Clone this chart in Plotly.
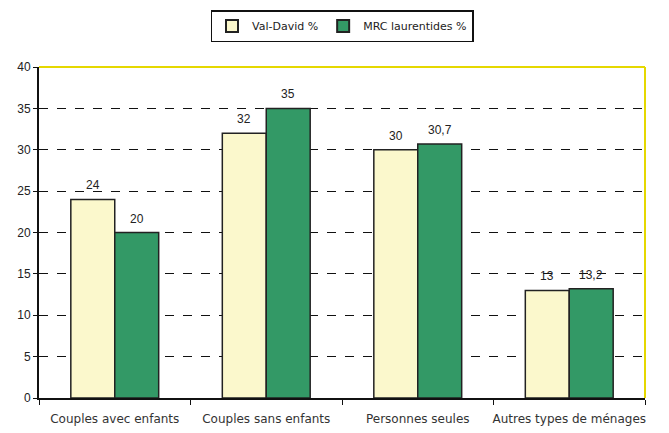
import plotly.graph_objects as go

categories = ["Couples avec enfants", "Couples sans enfants", "Personnes seules", "Autres types de ménages"]
val_david = [24, 32, 30, 13]
mrc = [20, 35, 30.7, 13.2]
val_david_labels = ["24", "32", "30", "13"]
mrc_labels = ["20", "35", "30,7", "13,2"]
y_ticks = [0, 5, 10, 15, 20, 25, 30, 35, 40]

LABEL_FONT = "DejaVu Sans, Verdana, sans-serif"
NUM_FONT = "Liberation Sans, Arial, sans-serif"

fig = go.Figure()
fig.add_trace(go.Bar(name="Val-David %", x=categories, y=val_david,
                     marker=dict(color="#FBF8CC", line=dict(color="#222222", width=1.5))))
fig.add_trace(go.Bar(name="MRC laurentides %", x=categories, y=mrc,
                     marker=dict(color="#339966", line=dict(color="#222222", width=1.5))))

for cat, v, lab in zip(categories, val_david, val_david_labels):
    fig.add_annotation(x=cat, y=v, text=lab, showarrow=False, xshift=-22, yshift=14,
                       font=dict(size=12, color="#222222", family=NUM_FONT))
for cat, v, lab in zip(categories, mrc, mrc_labels):
    fig.add_annotation(x=cat, y=v, text=lab, showarrow=False, xshift=22, yshift=14,
                       font=dict(size=12, color="#222222", family=NUM_FONT))

fig.update_layout(
    width=669, height=433,
    margin=dict(l=31, r=32, t=59, b=43, autoexpand=False),
    paper_bgcolor="white", plot_bgcolor="white",
    font=dict(family=LABEL_FONT, size=12, color="#222222"),
    barmode="group", bargap=0.42, bargroupgap=0,
    legend=dict(orientation="h", x=0.5, xanchor="center", y=1.172, yanchor="top",
                bordercolor="#111111", borderwidth=1.5, font=dict(size=11, family=LABEL_FONT),
                itemsizing="constant", itemwidth=30, traceorder="normal", tracegroupgap=0),
    showlegend=True,
)
fig.update_yaxes(range=[0, 40], tickvals=y_ticks, showgrid=True, gridcolor="#111111",
                 griddash="dash", gridwidth=1, showline=True, linecolor="#111111", linewidth=2,
                 ticks="outside", ticklen=4, tickcolor="#111111", zeroline=False,
                 tickfont=dict(size=12, family=NUM_FONT))
fig.update_xaxes(showline=True, linecolor="#111111", linewidth=2, ticks="outside",
                 tickson="boundaries", ticklen=5, tickcolor="#111111", tickangle=0,
                 ticklabelstandoff=9,
                 tickfont=dict(size=12, family=LABEL_FONT, color="#333333"))
fig.add_shape(type="line", xref="paper", yref="paper", x0=0, x1=1, y0=1, y1=1,
              line=dict(color="#E5D800", width=2))
fig.add_shape(type="line", xref="paper", yref="paper", x0=1, x1=1, y0=0, y1=1,
              line=dict(color="#E5D800", width=2))

fig.write_html("out.html")
